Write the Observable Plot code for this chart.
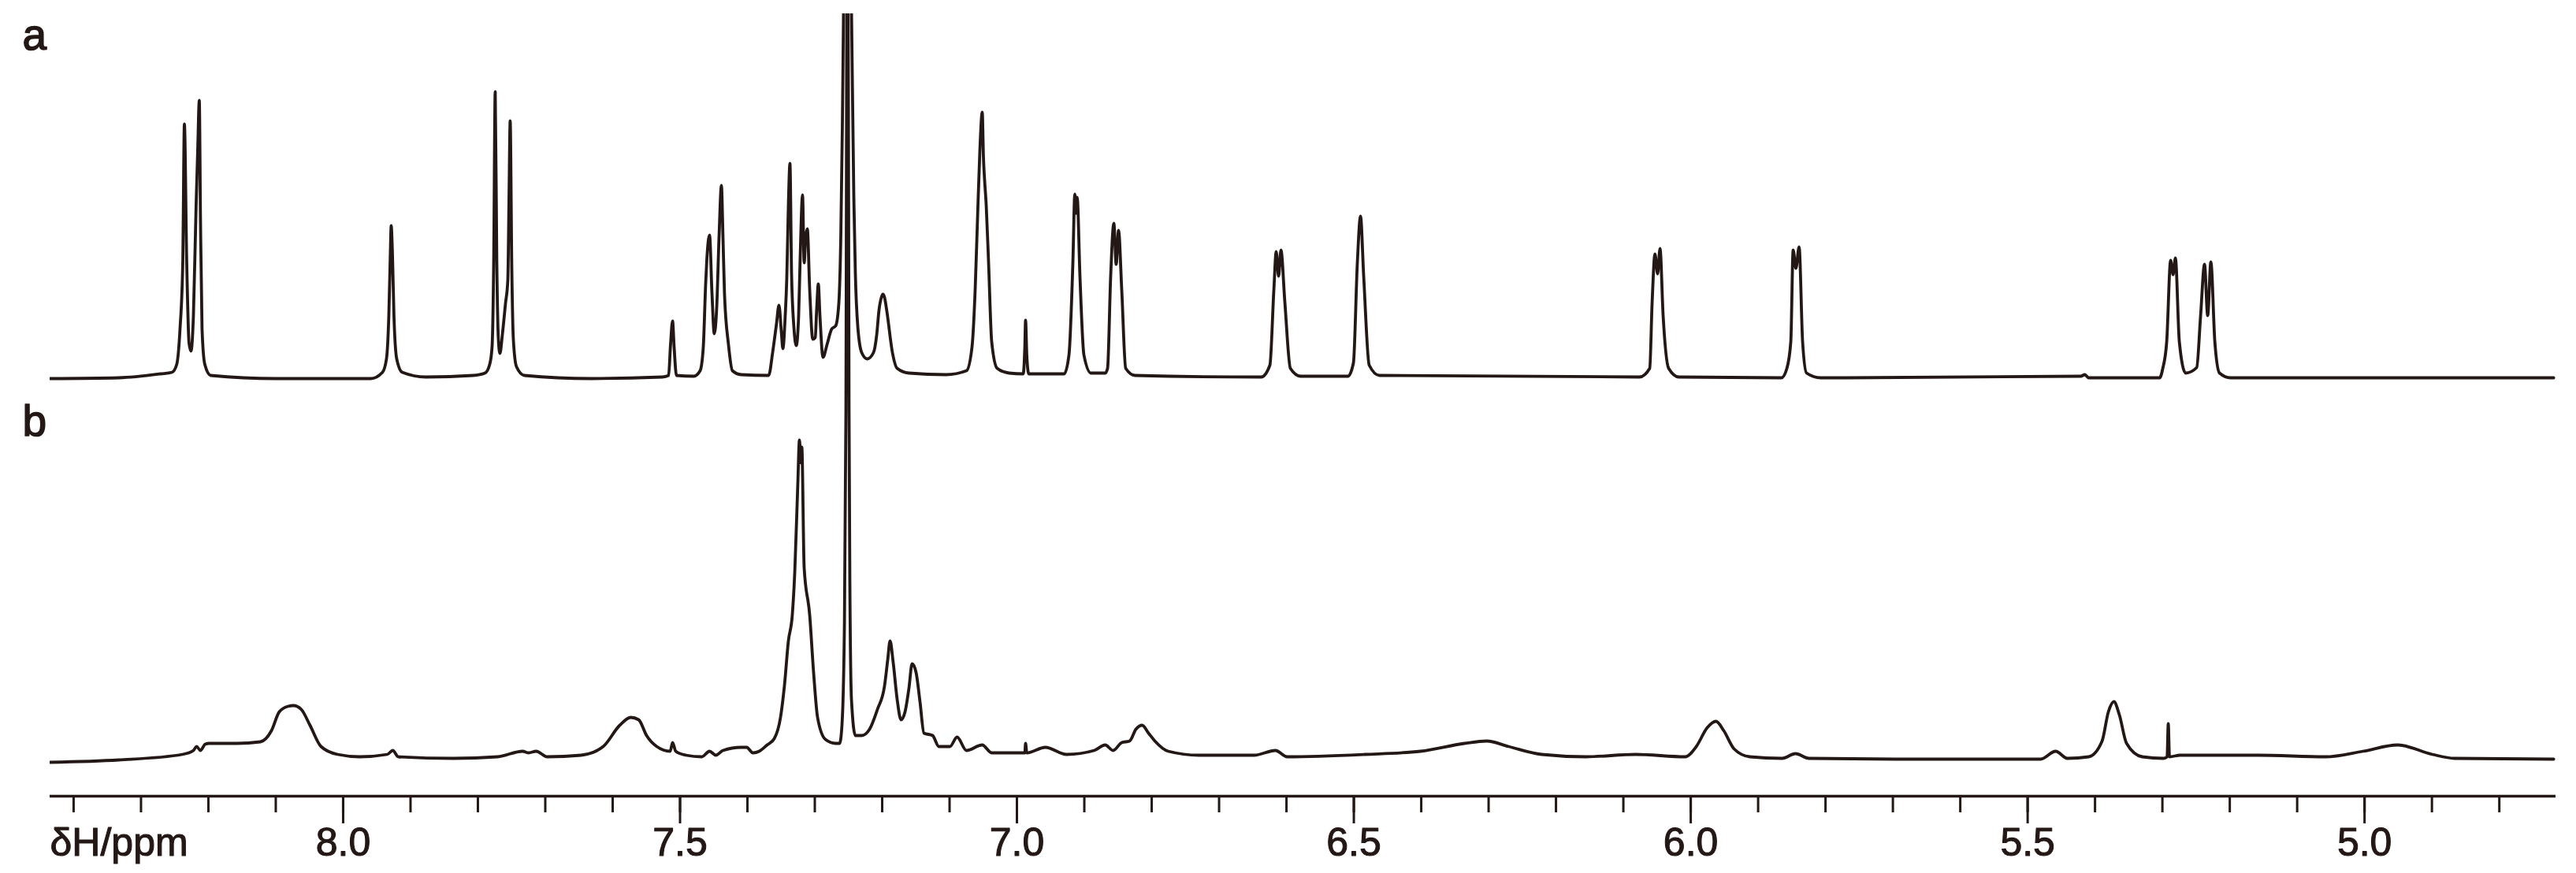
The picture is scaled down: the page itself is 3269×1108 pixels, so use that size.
<!DOCTYPE html>
<html><head><meta charset="utf-8">
<script src="https://cdn.jsdelivr.net/npm/d3@7"></script>
<script src="https://cdn.jsdelivr.net/npm/@observablehq/plot@0.6"></script>
<style>html,body{margin:0;padding:0;background:#fff;}</style>
</head><body><div id="chart"></div>
<script>
// Trace a: chemical shift (ppm) and intensity above its baseline (a.u.)
const ppmA = [8.435,8.333,8.271,8.254,8.247,8.2421,8.2380,8.2356,8.2322,8.2287,8.2258,8.2222,8.2182,8.2158,8.2135,8.2117,8.2094,8.2053,8.1965,8.0994,
7.959,7.9416,7.9357,7.9322,7.9299,7.9287,7.9269,7.9246,7.9205,7.9123,7.8772,7.8071,7.7895,7.7825,7.779,7.7766,7.7743,7.772,7.7696,7.7673,
7.7638,7.7591,7.7556,7.7538,7.7521,7.7497,7.7474,7.7427,7.731,7.6316,7.5263,7.517,7.5141,7.5111,7.5088,7.5053,7.4796,7.4702,7.4655,7.462,
7.4603,7.4562,7.4527,7.4492,7.4456,7.4421,7.4386,7.4363,7.434,7.4281,7.4223,7.4094,7.3685,7.3626,7.3591,7.3568,7.3532,7.3497,7.3474,7.3439,
7.3416,7.3392,7.3369,7.3345,7.331,7.3275,7.324,7.3217,7.3182,7.3158,7.3135,7.3111,7.3076,7.303,7.2994,7.2971,7.2948,7.2924,7.2878,7.2819,
7.2749,7.269,7.2644,7.2614,7.2591,7.2573,7.2515,7.2456,7.2421,7.2398,7.2363,7.2304,7.2222,7.2129,7.2082,7.2047,7.2012,7.1989,7.1965,7.193,
7.1848,7.1778,7.1603,7.1053,7.0749,7.0667,7.062,7.0585,7.055,7.0515,7.0497,7.048,7.0456,7.0421,7.0375,7.0293,7.0117,6.9907,6.9883,6.9872,
6.9854,6.9825,6.9299,6.9228,6.917,6.9141,6.9123,6.9106,6.9065,6.9006,6.8901,6.869,6.8655,6.8609,6.8562,6.8527,6.8492,6.8445,6.8386,6.8246,
6.6375,6.6246,6.6187,6.6152,6.6117,6.6082,6.6024,6.5942,6.579,6.5088,6.5006,6.4948,6.4901,6.4854,6.4772,6.462,6.0761,6.0609,6.0573,6.0531,
6.0492,6.0456,6.041,6.0328,6.0176,5.8655,5.8573,5.8515,5.848,5.8439,5.8392,5.834,5.8281,5.8071,5.4211,5.4152,5.4094,5.3041,5.2994,5.2936,
5.2878,5.2842,5.2807,5.2749,5.2655,5.2491,5.2433,5.2375,5.2328,5.2281,5.2222,5.2152,5.1989,4.7193];
const intA = [-2,-1,4,6,16,61,145,321,148,43,33,78,218,288,351,198,61,16,2,-2,
-2,6,23,78,158,192,158,78,23,6,0,2,5,16,38,141,362,148,48,30,
53,93,123,228,325,138,48,13,2,-2,0,2,41,71,38,2,1,8,38,118,
148,180,108,55,88,178,243,178,105,41,8,3,2,31,53,68,91,58,36,78,
125,218,271,131,63,40,78,151,231,145,178,188,111,48,50,88,118,78,25,41,
61,65,93,178,318,468,778,468,228,131,65,31,23,31,53,85,101,105,101,83,
31,11,5,3,8,38,111,201,288,336,278,250,218,145,45,11,5,4,38,72,
28,4,4,28,145,232,208,228,128,28,5,5,11,128,195,143,186,111,11,2,
0,15,111,159,128,161,95,11,1,1,18,145,204,128,15,2,0,11,95,156,
131,163,78,11,0,-1,11,45,161,138,165,45,5,-1,1,3,-1,-1,11,45,
148,130,151,45,5,12,78,143,78,146,45,5,-1,-1];

// Trace b: chemical shift (ppm) and intensity above its baseline (a.u.)
const ppmB = [8.435,8.333,8.2386,8.2222,8.2176,8.2117,8.2047,8.1989,8.1579,8.1228,8.1065,8.0948,8.0819,8.0737,8.062,8.0492,8.0328,8.0082,7.9755,7.9345,
7.9263,7.9182,7.8363,7.7708,7.7334,7.7252,7.7135,7.6971,7.6468,7.6141,7.5895,7.5731,7.5614,7.5497,7.5345,7.5146,7.5111,7.5064,7.4912,7.4678,
7.4562,7.4468,7.4363,7.4094,7.4012,7.3918,7.3825,7.3708,7.3602,7.3509,7.3451,7.3392,7.3334,7.3298,7.3252,7.3228,7.3205,7.3193,7.3158,7.3076,
7.3018,7.2959,7.2842,7.269,7.2632,7.2597,7.2562,7.2538,7.2515,7.2492,7.248,7.2456,7.2398,7.2304,7.2187,7.2071,7.1965,7.1918,7.1883,7.1837,
7.1778,7.172,7.1661,7.1603,7.1556,7.1497,7.1439,7.138,7.1252,7.1158,7.0994,7.0889,7.0749,7.0515,7.0375,7.0012,6.9883,6.9872,6.9854,6.9579,
6.9263,6.8854,6.869,6.8573,6.8445,6.8328,6.8234,6.8141,6.8047,6.7953,6.7755,6.7298,6.648,6.6164,6.5989,6.4842,6.4012,6.3357,6.3029,6.2702,
6.2211,6.1556,6.0819,6.0082,5.9918,5.9755,5.9626,5.9509,5.9357,5.9123,5.8644,5.8445,5.8246,5.6959,5.4807,5.4585,5.441,5.4094,5.3895,5.3802,
5.372,5.3638,5.3532,5.3299,5.2983,5.2930,5.2913,5.2895,5.2737,5.1579,5.0585,5.0024,4.9509,4.8994,4.8667,4.7193];
const intB = [-7,-4,3,8,13,8,16,17,17,19,33,57,64,65,60,40,13,3,0,3,
8,0,-2,0,7,5,7,0,2,13,40,50,47,27,13,7,18,7,2,0,
7,2,8,12,12,5,7,15,23,50,90,147,180,233,347,402,373,393,240,180,
107,50,22,17,17,40,157,440,1260,440,223,73,27,27,35,60,90,123,147,120,
73,47,57,87,118,107,70,30,27,13,13,25,8,15,5,5,5,17,5,12,
3,8,15,8,18,20,35,40,30,20,7,2,2,8,0,3,7,17,20,13,
3,0,3,0,13,37,45,33,10,0,-2,4,-2,-3,-3,7,-2,0,20,57,
70,53,17,0,-2,0,42,0,2,2,0,7,15,3,-2,-3];

const traceLabels = ["a", "b"];
const minorTicks = [8.4,8.3,8.2,8.1,8.0,7.9,7.8,7.7,7.6,7.5,7.4,7.3,7.2,7.1,7.0,6.9,6.8,6.7,6.6,6.5,6.4,6.3,6.2,6.1,6.0,5.9,5.8,5.7,5.6,5.5,5.4,5.3,5.2,5.1,5.0,4.9,4.8];
const majorTicks = [8.0,7.5,7.0,6.5,6.0,5.5,5.0];
const majorTickLabels = ["8.0","7.5","7.0","6.5","6.0","5.5","5.0"];
const axisLabel = "δH/ppm";

// stacking offsets (intensity units) for the two traces
const offsetA = 532, offsetB = 50;
const dataA = ppmA.map((p, i) => ({ppm: p, v: offsetA + intA[i]}));
const dataB = ppmB.map((p, i) => ({ppm: p, v: offsetB + intB[i]}));

const ink = "#231815";
const font = "'Liberation Sans', Arial, Helvetica, sans-serif";

const chart = Plot.plot({
  width: 3269,
  height: 1108,
  marginLeft: 63,
  marginRight: 26,
  marginTop: 17,
  marginBottom: 98,
  style: {fontFamily: font, background: "#fff", color: ink, overflow: "visible"},
  x: {domain: [8.435, 4.716], label: null},
  y: {domain: [0, 993], axis: null},
  marks: [
    Plot.line(dataB, {x: "ppm", y: "v", stroke: ink, strokeWidth: 3.8, clip: true, curve: "monotone-x", strokeLinejoin: "round"}),
    Plot.line(dataA, {x: "ppm", y: "v", stroke: ink, strokeWidth: 3.8, clip: true, curve: "monotone-x", strokeLinejoin: "round"}),
    Plot.ruleY([0], {stroke: ink, strokeWidth: 3.5}),
    Plot.axisX({ticks: minorTicks, tickSize: 21, tickFormat: () => "", stroke: ink, strokeWidth: 3, label: null}),
    Plot.axisX({ticks: majorTicks, tickSize: 35, tickFormat: () => "", stroke: ink, strokeWidth: 3, label: null}),
    Plot.text(majorTicks, {x: d => d, text: (d, i) => majorTickLabels[i], frameAnchor: "bottom", dy: 40, lineAnchor: "top",
      fontSize: 50, fill: ink, stroke: ink, strokeWidth: 1.1}),
    Plot.text([axisLabel], {frameAnchor: "bottom-left", dy: 40, lineAnchor: "top", textAnchor: "start", fontSize: 50, fill: ink, stroke: ink, strokeWidth: 1.1}),
    Plot.text([traceLabels[0]], {frameAnchor: "top-left", dx: -35, dy: 45, lineAnchor: "bottom", textAnchor: "start", fontSize: 55, fill: ink, stroke: ink, strokeWidth: 1.5}),
    Plot.text([traceLabels[1]], {frameAnchor: "top-left", dx: -35, dy: 535, lineAnchor: "bottom", textAnchor: "start", fontSize: 55, fill: ink, stroke: ink, strokeWidth: 1.5})
  ]
});
document.getElementById("chart").appendChild(chart);
</script>
</body></html>
